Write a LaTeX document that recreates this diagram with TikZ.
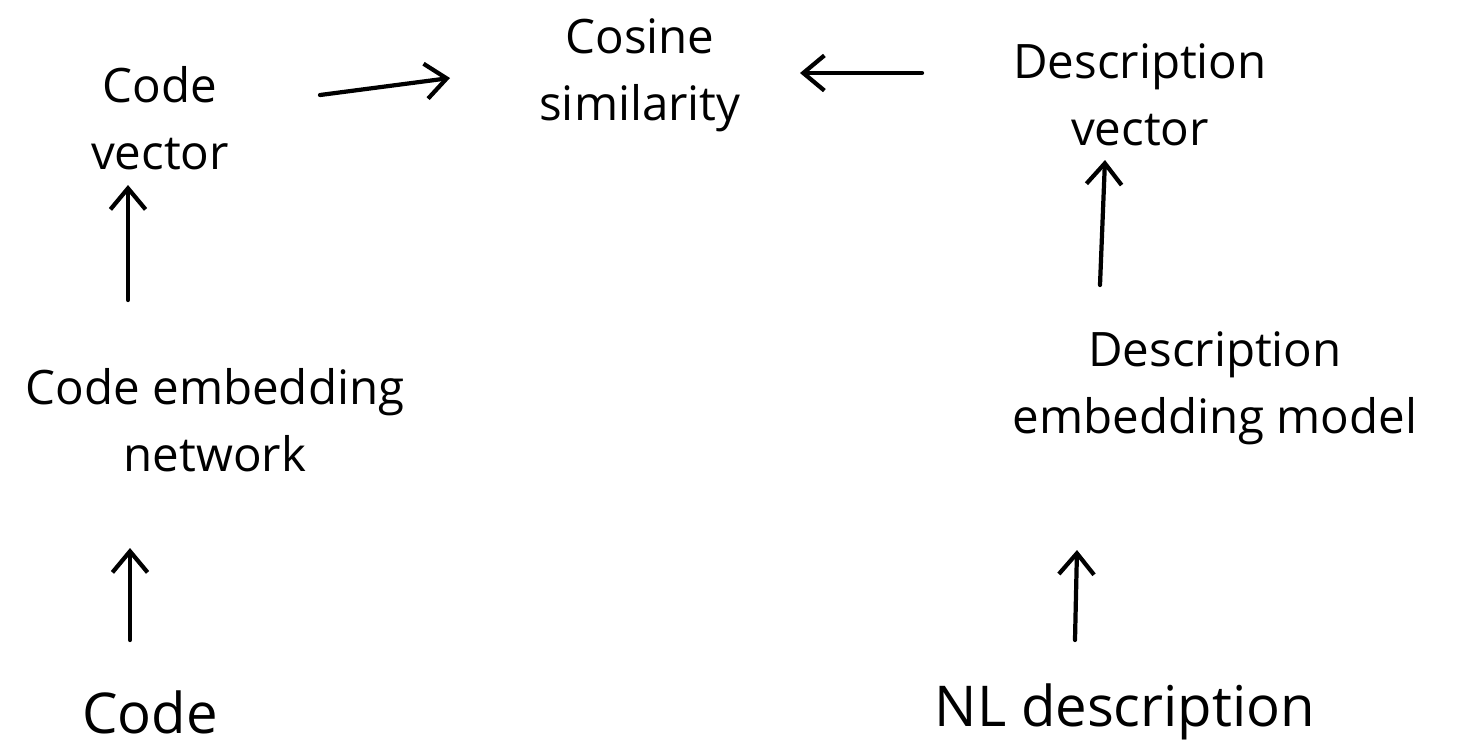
\documentclass[tikz,border=0pt]{standalone}
\usepackage{fontspec}
\setmainfont{Open Sans}
\usetikzlibrary{arrows.meta}
\begin{document}
\begin{tikzpicture}[x=0.01cm,y=-0.01cm,
  lbl/.style={font=\fontsize{13.5}{19}\selectfont, align=center, inner sep=0pt},
  big/.style={font=\fontsize{16}{20}\selectfont, inner sep=0pt},
  arr/.style={line width=1.2pt, line cap=round, -{Straight Barb[length=6pt,width=10pt]}}]
\path[use as bounding box] (0,0) rectangle (1475,750);
\node[lbl] (cv) at (160,118) {Code\\vector};
\node[lbl] (cs) at (640,75) {Cosine\\similarity};
\node[lbl] (dv) at (1140,95) {Description\\vector};
\node[lbl] (cen) at (215,420) {Code embedding\\network};
\node[lbl] (dem) at (1215,388) {Description\\embedding model};
\node[big] (c) at (150,712) {Code};
\node[big] (nl) at (1125,712) {NL description};
% horizontal arrows
\draw[arr] ([shift={(160,-23)}]cv.center) -- ([shift={(-190,3)}]cs.center);
\draw[arr] ([shift={(-218,-22)}]dv.center) -- ([shift={(160,-2)}]cs.center);
% vertical arrows
\draw[arr] ([shift={(-87,-120)}]cen.center) -- ([shift={(-32,67)}]cv.center);
\draw[arr] ([shift={(-20,-72)}]c.center) -- ([shift={(-85,128)}]cen.center);
\draw[arr] ([shift={(-115,-103)}]dem.center) -- ([shift={(-35,65)}]dv.center);
\draw[arr] ([shift={(-50,-72)}]nl.center) -- ([shift={(-138,162)}]dem.center);
\end{tikzpicture}
\end{document}
